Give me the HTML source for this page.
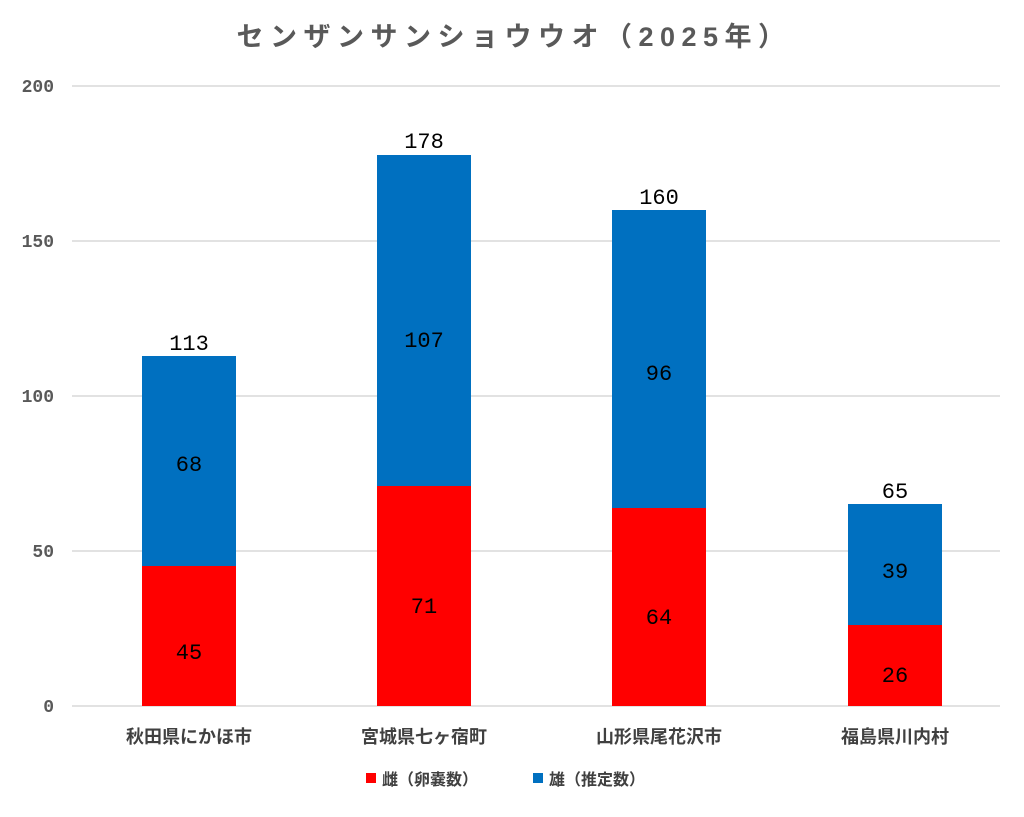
<!DOCTYPE html>
<html><head><meta charset="utf-8"><style>
body{margin:0;background:#fff;}
svg text{font-family:"Liberation Mono","Noto Sans CJK JP",monospace;}
.cjk{font-family:"Liberation Sans","Noto Sans CJK JP",sans-serif !important;}
</style></head><body>
<svg width="1024" height="812" viewBox="0 0 1024 812" xmlns="http://www.w3.org/2000/svg">
<rect width="1024" height="812" fill="#fff"/>
<text x="514" y="46" text-anchor="middle" font-size="27" font-weight="bold" fill="#595959" letter-spacing="6.5" class="cjk">センザンサンショウウオ（2025年）</text>
<g stroke="#d9d9d9" stroke-width="1.5">
<line x1="72" y1="86" x2="1000" y2="86"/>
<line x1="72" y1="241" x2="1000" y2="241"/>
<line x1="72" y1="396" x2="1000" y2="396"/>
<line x1="72" y1="551" x2="1000" y2="551"/>
<line x1="72" y1="706" x2="1000" y2="706"/>
</g>
<g font-size="18" font-weight="bold" fill="#595959" text-anchor="end">
<text x="54" y="92">200</text><text x="54" y="247">150</text><text x="54" y="402">100</text><text x="54" y="557">50</text><text x="54" y="712">0</text>
</g>
<g>
<rect x="142" y="356" width="94" height="210" fill="#0070c0"/><rect x="142" y="566" width="94" height="140" fill="#ff0000"/>
<rect x="377" y="155" width="94" height="331" fill="#0070c0"/><rect x="377" y="486" width="94" height="220" fill="#ff0000"/>
<rect x="612" y="210" width="94" height="298" fill="#0070c0"/><rect x="612" y="508" width="94" height="198" fill="#ff0000"/>
<rect x="848" y="504" width="94" height="121" fill="#0070c0"/><rect x="848" y="625" width="94" height="81" fill="#ff0000"/>
</g>
<g font-size="22" fill="#000" text-anchor="middle">
<text x="189" y="350">113</text><text x="189" y="471">68</text><text x="189" y="659">45</text>
<text x="424" y="148">178</text><text x="424" y="347">107</text><text x="424" y="613">71</text>
<text x="659" y="204">160</text><text x="659" y="380">96</text><text x="659" y="624">64</text>
<text x="895" y="498">65</text><text x="895" y="578">39</text><text x="895" y="682">26</text>
</g>
<g font-size="18" font-weight="bold" fill="#404040" text-anchor="middle">
<text x="189" y="743" class="cjk">秋田県にかほ市</text>
<text x="424" y="743" class="cjk">宮城県七ヶ宿町</text>
<text x="659" y="743" class="cjk">山形県尾花沢市</text>
<text x="895" y="743" class="cjk">福島県川内村</text>
</g>
<rect x="366" y="773" width="10" height="10" fill="#ff0000"/>
<text x="382" y="785" font-size="16" font-weight="bold" fill="#404040" class="cjk">雌（卵嚢数）</text>
<rect x="533" y="773" width="10" height="10" fill="#0070c0"/>
<text x="549" y="785" font-size="16" font-weight="bold" fill="#404040" class="cjk">雄（推定数）</text>
</svg>
</body></html>
